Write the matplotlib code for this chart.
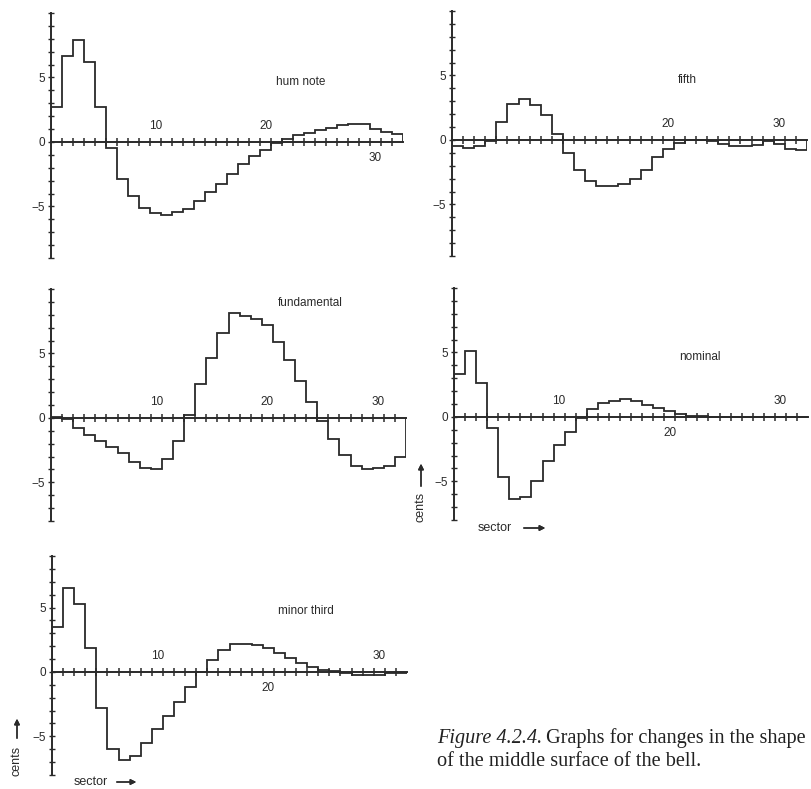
import numpy as np
import matplotlib.pyplot as plt

# Размер картинки в пикселях
W, H = 811, 789

# Номера секторов
sectors = np.arange(1, 33)

# Изменения (в центах) для каждого тона
hum_note = [2.7, 6.7, 7.9, 6.2, 2.7, -0.5, -2.9, -4.2, -5.1, -5.5, -5.7, -5.4,
            -5.2, -4.6, -3.9, -3.3, -2.5, -1.7, -1.1, -0.6, -0.1, 0.2, 0.5, 0.7,
            0.9, 1.1, 1.3, 1.4, 1.4, 1.0, 0.8, 0.6]
fifth = [-0.5, -0.65, -0.45, -0.1, 1.4, 2.8, 3.2, 2.7, 1.9, 0.5, -1.0, -2.3,
         -3.2, -3.6, -3.6, -3.4, -3.0, -2.3, -1.3, -0.7, -0.25, 0.0, 0.0, -0.1,
         -0.3, -0.45, -0.5, -0.4, -0.05, -0.3, -0.7, -0.8]
fundamental = [0.05, -0.05, -0.8, -1.3, -1.8, -2.25, -2.7, -3.4, -3.9, -4.0, -3.2, -1.8,
               0.2, 2.6, 4.65, 6.55, 8.1, 7.9, 7.7, 7.2, 5.9, 4.5, 2.9, 1.25,
               -0.25, -1.6, -2.85, -3.75, -3.95, -3.9, -3.7, -3.0]
nominal = [3.3, 5.15, 2.6, -0.9, -4.7, -6.4, -6.25, -4.95, -3.45, -2.15, -1.2, -0.1,
           0.6, 1.05, 1.25, 1.35, 1.25, 0.9, 0.7, 0.45, 0.2, 0.1, 0.05, 0.0,
           0.0, 0.0, 0.0, 0.0, 0.0, 0.0, 0.0, 0.0]
minor_third = [3.5, 6.5, 5.25, 1.85, -2.8, -5.95, -6.8, -6.5, -5.5, -4.45, -3.45, -2.3,
               -1.2, 0.0, 0.95, 1.7, 2.2, 2.2, 2.1, 1.85, 1.45, 1.1, 0.7, 0.4,
               0.15, 0.05, -0.1, -0.2, -0.2, -0.2, -0.1, -0.05]

plt.rcParams['font.family'] = ['Liberation Sans', 'DejaVu Sans']
ink = '#2a2a2a'

fig = plt.figure(figsize=(W / 100, H / 100), dpi=100)


def px_axes(left, right, top, bottom):
    return fig.add_axes([left / W, 1 - bottom / H, (right - left) / W, (bottom - top) / H])


# (данные, подпись, рамка в пикселях, пределы y, место подписи, подписи по x: сверху/снизу)
panels = [
    (hum_note, 'hum note', (51, 403, 13, 258), (-9, 10), (301, 82),
     {10: 'up', 20: 'up', 30: 'down'}),
    (fifth, 'fifth', (452, 807, 11, 256), (-9, 10), (687, 80),
     {20: 'up', 30: 'up'}),
    (fundamental, 'fundamental', (51, 406, 289, 521), (-8, 10), (310, 303),
     {10: 'up', 20: 'up', 30: 'up'}),
    (nominal, 'nominal', (454, 808, 288, 520), (-8, 10), (700, 357),
     {10: 'up', 20: 'down', 30: 'up'}),
    (minor_third, 'minor third', (52, 407, 556, 775), (-8, 9), (306, 611),
     {10: 'up', 20: 'down', 30: 'up'}),
]

for values, name, box, ylim, name_xy, sides in panels:
    ax = px_axes(*box)
    edges = np.append(sectors - 0.5, sectors[-1] + 0.5)
    ax.stairs(values, edges, baseline=0, color=ink, lw=1.3)
    ax.set_xlim(edges[0], edges[-1])
    ax.set_ylim(*ylim)
    ax.patch.set_alpha(0)

    for s in ['top', 'right']:
        ax.spines[s].set_visible(False)
    ax.spines['bottom'].set_position(('data', 0))
    ax.spines['left'].set_bounds(*ylim)
    ax.spines['left'].set_linewidth(1.4)
    ax.spines['bottom'].set_linewidth(1.4)
    ax.spines['left'].set_color(ink)
    ax.spines['bottom'].set_color(ink)

    ax.set_xticks(edges[1:-1])
    ax.set_xticklabels([])
    ax.tick_params(axis='x', direction='inout', length=6, width=1.1, color=ink)
    ax.set_yticks(np.arange(ylim[0], ylim[1] + 1))
    ax.set_yticklabels(['\u22125' if v == -5 else str(v) if v in (0, 5) else ''
                        for v in range(ylim[0], ylim[1] + 1)])
    ax.tick_params(axis='y', direction='inout', length=5, width=1.0, color=ink,
                   labelsize=8.5, pad=2, labelcolor=ink)

    for xv, side in sides.items():
        dy = 7 if side == 'up' else -7
        ax.annotate(str(xv), (xv, 0), xytext=(0, dy), textcoords='offset points',
                    ha='center', va='bottom' if side == 'up' else 'top',
                    fontsize=8.5, color=ink)

    fig.text(name_xy[0] / W, 1 - name_xy[1] / H, name, ha='center', va='center',
             fontsize=8.5, color=ink)

# Подписи осей со стрелками
for cx, cy, ax0, ay0, ay1 in [(421, 507, 421, 489, 461), (17, 761, 17, 741, 716)]:
    fig.text(cx / W, 1 - cy / H, 'cents', rotation=90, ha='center', va='center',
             fontsize=9, color=ink)
    fig.add_artist(plt.annotate('', xy=(ax0 / W, 1 - ay1 / H), xytext=(ax0 / W, 1 - ay0 / H),
                                xycoords='figure fraction',
                                arrowprops=dict(arrowstyle='-|>', color=ink, lw=1.0,
                                                mutation_scale=8)))
for sx, sy, a0, a1 in [(495, 528, 521, 548), (91, 782, 114, 139)]:
    fig.text(sx / W, 1 - sy / H, 'sector', ha='center', va='center', fontsize=9, color=ink)
    fig.add_artist(plt.annotate('', xy=(a1 / W, 1 - sy / H), xytext=(a0 / W, 1 - sy / H),
                                xycoords='figure fraction',
                                arrowprops=dict(arrowstyle='-|>', color=ink, lw=1.0,
                                                mutation_scale=8)))

# Подпись к рисунку
renderer = fig.canvas.get_renderer()
t1 = fig.text(437 / W, 1 - 738 / H, 'Figure 4.2.4.', family='Liberation Serif',
              style='italic', fontsize=14.6, va='center', color='#222')
bb = t1.get_window_extent(renderer)
fig.text(bb.x1 / W + 4 / W, 1 - 738 / H, 'Graphs for changes in the shape',
         family='Liberation Serif', fontsize=14.6, va='center', color='#222')
fig.text(437 / W, 1 - 761 / H, 'of the middle surface of the bell.',
         family='Liberation Serif', fontsize=14.6, va='center', color='#222')

fig.savefig('out.png', dpi=100)
